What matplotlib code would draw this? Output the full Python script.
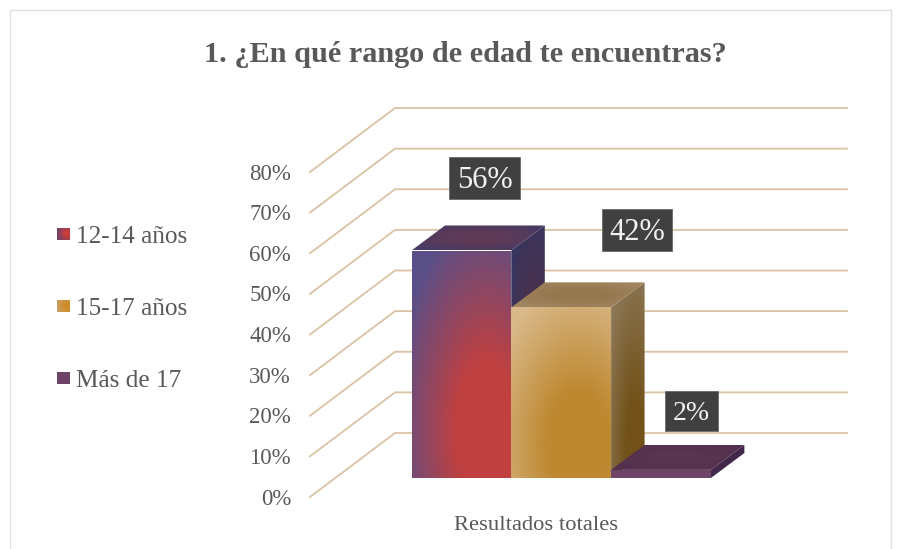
import numpy as np
import matplotlib
matplotlib.use("Agg")
import matplotlib.pyplot as plt
from matplotlib.patches import Polygon, Rectangle

plt.rcParams['font.family'] = ['Liberation Serif', 'DejaVu Serif']

title = "1. ¿En qué rango de edad te encuentras?"
categories = ["12-14 años", "15-17 años", "Más de 17"]
values = [56, 42, 2]
value_labels = ["56%", "42%", "2%"]
ticks = [0, 10, 20, 30, 40, 50, 60, 70, 80]
xlabel = "Resultados totales"

W, H = 909, 549
PX_PER_PCT = 4.0625
Y0 = 497
DX, DY = 85, 15.75   # wall offset (px, percent)
TXT = "#595959"
GRID = "#D9C3A4"

fig = plt.figure(figsize=(W / 100, H / 100), dpi=100)
ax = fig.add_axes([0, 0, 1, 1])
ax.axis("off")
XLIM = (0, W)
YLIM = ((Y0 - H) / PX_PER_PCT, Y0 / PX_PER_PCT)


def py(p):
    return (Y0 - p) / PX_PER_PCT


# frame
ax.plot([10, 10, 891, 891], [py(549), py(10), py(10), py(549)], color="#E0E0E0", lw=1.0, zorder=1)

# walls
for t in ticks:
    ax.plot([310, 310 + DX, 847], [t, t + DY, t + DY], color=GRID, lw=1.3, zorder=2,
            solid_joinstyle="miter")
    ax.text(291, t - 0.5, f"{t}%", ha="right", va="center", fontsize=16.5, color=TXT, zorder=3)


def hexrgb(c):
    return np.array(matplotlib.colors.to_rgb(c))


def fill(poly, outer, inner, center, radius=1.0, flat=0.25):
    """Radial gradient on the bbox of poly, clipped to it."""
    poly = np.array(poly)
    x0, x1 = poly[:, 0].min(), poly[:, 0].max()
    y0, y1 = poly[:, 1].min(), poly[:, 1].max()
    n = 120
    xx, yy = np.meshgrid(np.linspace(0, 1, n), np.linspace(0, 1, n))
    d = np.clip(np.hypot(xx - center[0], (yy - center[1])) / radius, 0, 1)[..., None]
    d = np.clip((d - flat) / (1 - flat), 0, 1)
    img = hexrgb(inner) * (1 - d) + hexrgb(outer) * d
    im = ax.imshow(img, extent=(x0, x1, y0, y1), origin="lower", aspect="auto", zorder=5,
                   interpolation="bilinear")
    p = Polygon(poly, closed=True, transform=ax.transData, facecolor="none", edgecolor="none")
    ax.add_patch(p)
    im.set_clip_path(p)


BAR_L = 411.5
BAR_W = 99.8
BASE = py(478)
ODX, ODY = 33.5, 25 / PX_PER_PCT
front_cols = [("#5A4F88", "#C04040"), ("#D9B98A", "#BE8830"), ("#6E4468", "#6E4468")]
top_cols = [("#3F3A68", "#5E3A58"), ("#A58C68", "#96784F"), ("#4F2F4C", "#5A3450")]
side_cols = [("#343560", "#5A2E42"), ("#8E7A5C", "#735219"), ("#42284A", "#42284A")]
centers = [(0.75, 0.2), (0.68, 0.2), (0.5, 0.5)]
radii = [0.95, 0.95, 1.0]

for i, v in enumerate(values):
    l = BAR_L + i * BAR_W
    r = l + BAR_W
    top = BASE + v
    side = [(r, BASE), (r + ODX, BASE + ODY), (r + ODX, top + ODY), (r, top)]
    upper = [(l, top), (r, top), (r + ODX, top + ODY), (l + ODX, top + ODY)]
    front = [(l, BASE), (r, BASE), (r, top), (l, top)]
    fill(side, side_cols[i][0], side_cols[i][1], (0.7, 0.15))
    fill(upper, top_cols[i][0], top_cols[i][1], (0.5, 0.5), 0.8)
    fill(front, front_cols[i][0], front_cols[i][1], centers[i], radii[i], flat=0.33)

# value labels: box left, right, top, bottom in pixels
label_boxes = [(449, 520, 157, 199), (602, 672, 209, 251), (665, 718, 391, 431)]
label_size = [22, 22, 20]
for (x0, x1, y0, y1), s, lab in zip(label_boxes, label_size, value_labels):
    ax.add_patch(Rectangle((x0, py(y1)), x1 - x0, py(y0) - py(y1), fc="#404040", ec="#6A6A6A",
                           lw=0.6, zorder=7))
    ax.text((x0 + x1) / 2, py((y0 + y1) / 2 + 3), lab, ha="center", va="center", color="#F2F2F2",
            fontsize=s, zorder=8)

ax.text(536, py(526), xlabel, ha="center", va="center", fontsize=16.2, color=TXT, zorder=8)
ax.text(465, py(54), title, ha="center", va="center", fontsize=21.8, fontweight="bold", color=TXT, zorder=8)

# legend
leg_y = [234, 306, 378]
leg_cols = [("#6E4468", "#C83C3C"), ("#C8A060", "#D08C28"), ("#6E4468", "#6E4468")]
for y, c, cat in zip(leg_y, leg_cols, categories):
    s = 12.5
    fill([(57, py(y + s / 2)), (57 + s, py(y + s / 2)), (57 + s, py(y - s / 2)), (57, py(y - s / 2))],
         c[0], c[1], (0.8, 0.5), 0.8)
    ax.text(76, py(y + 3), cat, ha="left", va="center", fontsize=18.2, color=TXT, zorder=8)

ax.set_xlim(*XLIM)
ax.set_ylim(*YLIM)
fig.savefig("out.png", dpi=100, facecolor="white")
